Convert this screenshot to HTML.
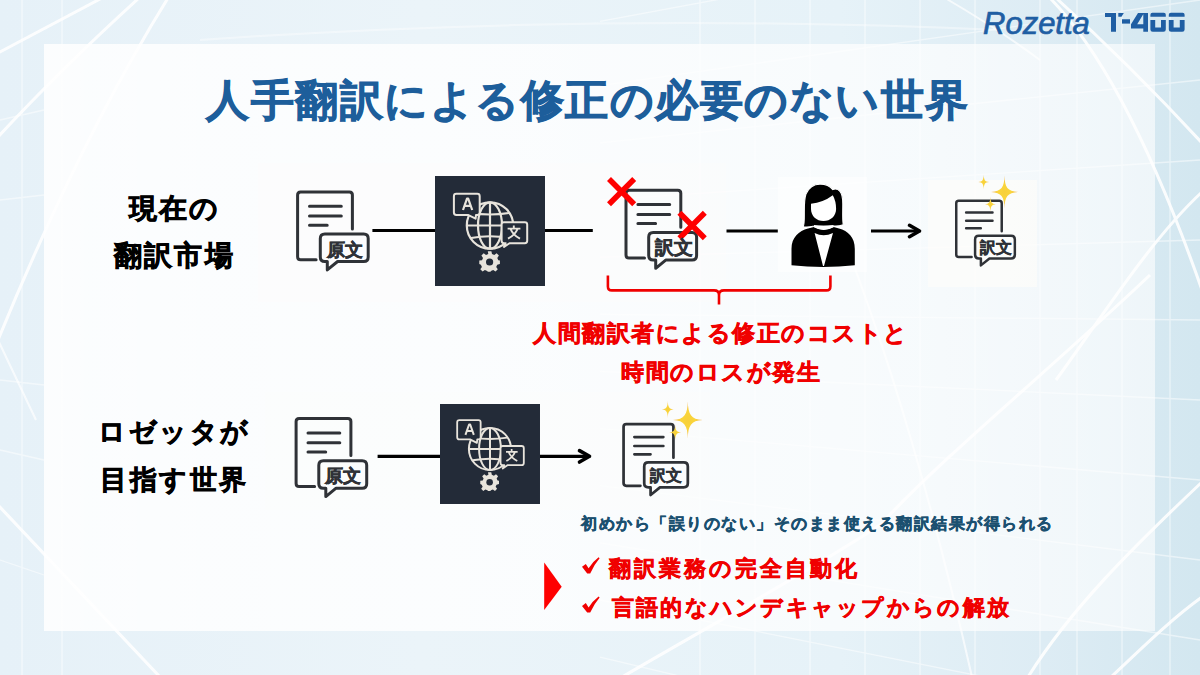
<!DOCTYPE html>
<html lang="ja">
<head>
<meta charset="utf-8">
<style>
html,body{margin:0;padding:0;}
body{width:1200px;height:675px;overflow:hidden;position:relative;font-family:"Liberation Sans",sans-serif;background:#e3eff6;}
svg{position:absolute;left:0;top:0;overflow:visible;}
#panel{position:absolute;left:44px;top:44px;width:1111px;height:587px;background:linear-gradient(to right,rgba(255,255,255,0.86) 0%,rgba(255,255,255,0.8) 45%,rgba(255,255,255,0.7) 80%,rgba(255,255,255,0.6) 100%);}
.t{position:absolute;white-space:nowrap;font-weight:bold;line-height:1;-webkit-text-stroke:0.021em currentColor;}
.k{color:#000;-webkit-text-stroke:0.026em #000;}
.r{color:#f00000;-webkit-text-stroke:0.026em #f00000;}
.d{color:#2f3237;-webkit-text-stroke:0.03em #2f3237;}
</style>
</head>
<body>
<svg width="1200" height="675" viewBox="0 0 1200 675">
  <defs>
    <linearGradient id="bgg" x1="0" y1="0" x2="1" y2="0">
      <stop offset="0" stop-color="#e6f1f8"/>
      <stop offset="0.35" stop-color="#ebf4f9"/>
      <stop offset="0.7" stop-color="#e6f2f8"/>
      <stop offset="0.87" stop-color="#ddecf4"/>
      <stop offset="1" stop-color="#d3e7f0"/>
    </linearGradient>
    <filter id="bl" x="-10%" y="-10%" width="120%" height="120%"><feGaussianBlur stdDeviation="0.7"/></filter>
  </defs>
  <rect width="1200" height="675" fill="url(#bgg)"/>
  <g stroke="#fff" fill="none" stroke-width="1.3" opacity="0.5" filter="url(#bl)">
    <path d="M600 -42.9 L1200 -180 M600 21.4 L1200 -90 M600 85.7 L1200 0 M600 142.9 L1200 80 M600 200.0 L1200 160 M600 257.1 L1200 240 M600 314.3 L1200 320 M600 371.4 L1200 400 M600 428.6 L1200 480 M600 485.7 L1200 560 M600 542.9 L1200 640 M600 600.0 L1200 720 M600 657.1 L1200 800 M600 714.3 L1200 880"/>
    <path d="M700 0 V675 M755 0 V675 M810 0 V675 M865 0 V675 M920 0 V675 M975 0 V675 M1040 0 V675 M1077 0 V675 M1122 0 V675 M1170 0 V675"/>
    <path d="M22 0 V675 M62 0 V675 M0 120 L44 110 M0 200 L44 195 M0 380 L44 385 M0 450 L44 460 M0 560 L44 575"/>
  </g>
  <g stroke="#fff" fill="none" stroke-width="3" opacity="0.9" filter="url(#bl)">
    <path d="M-2 53 L102 -2"/>
    <path d="M-2 137 Q 60 70 139 -2"/>
    <path d="M168 -2 Q 80 140 -2 340"/>
    <path d="M-2 505 L160 677"/>
    <path d="M1056 -2 Q 1130 65 1202 143"/>
    <path d="M1050 -2 C 1110 60 1160 170 1202 290"/>
    <path d="M1056 380 C 1100 320 1150 240 1202 192"/>
    <path d="M1150 275 C 1050 370 950 450 880 525 C 820 565 720 620 622 677"/>
    <path d="M1202 482 C 1130 550 1070 610 1028 677"/>
    <path d="M1111 677 C 1140 650 1170 620 1202 597"/>
  </g>
  <path d="M200 40 Q 600 12 1000 30" stroke="#fff" fill="none" stroke-width="2" opacity="0.4" filter="url(#bl)"/>
  <g stroke="#fff" fill="none" stroke-width="2" opacity="0.7" filter="url(#bl)">
    <path d="M820 180 Q 905 380 972 677"/>
    <path d="M-2 340 L36 420"/>
    <path d="M945 -2 Q 1000 30 1040 60"/>
  </g>
</svg>
<div id="panel"></div>

<!-- logo -->
<div class="t" style="left:983px;top:7.5px;font-size:31px;font-style:italic;font-weight:normal;color:#1f5ea3;-webkit-text-stroke:0.7px #1f5ea3;">Rozetta</div>
<svg width="1200" height="675" viewBox="0 0 1200 675">
  <g fill="#1f5ea3">
    <path d="M1105 13 H1116 V31.75 H1111 V17 H1105 Z"/>
    <path d="M1118.3 13 H1123.8 L1121.5 16.8 H1118.3 Z"/>
    <rect x="1122" y="19.25" width="8" height="4.35"/>
    <path d="M1138 13 H1144 L1137.2 24.25 H1143.3 V13 H1148 V31.75 H1143.3 V28.4 H1131 V24.25 Z"/>
    <path d="M1150.4 16.75 V14.8 Q1150.4 12.8 1152.4 12.8 H1163.8 Q1165.8 12.8 1165.8 14.8 V16.75 Z M1150.4 20.1 H1155.2 V27.4 H1161 V20.1 H1165.8 V29.5 Q1165.8 31.75 1163.5 31.75 H1152.7 Q1150.4 31.75 1150.4 29.5 Z"/>
    <path d="M1168.8 16.75 V14.8 Q1168.8 12.8 1170.8 12.8 H1182.6 Q1184.6 12.8 1184.6 14.8 V16.75 Z M1168.8 20.1 H1173.6 V27.4 H1179.8 V20.1 H1184.6 V29.5 Q1184.6 31.75 1182.3 31.75 H1171.1 Q1168.8 31.75 1168.8 29.5 Z"/>
  </g>
</svg>

<!-- title -->
<div class="t" style="left:206px;top:79px;font-size:43px;letter-spacing:1.5px;color:#1d5e9b;">人手翻訳による修正の必要のない世界</div>

<!-- labels -->
<div class="t k" style="left:129px;top:195px;font-size:28px;letter-spacing:2.2px;">現在の</div>
<div class="t k" style="left:114px;top:242px;font-size:28px;letter-spacing:2.2px;">翻訳市場</div>
<div class="t k" style="left:98px;top:419px;font-size:27px;letter-spacing:2.6px;">ロゼッタが</div>
<div class="t k" style="left:100px;top:467px;font-size:27px;letter-spacing:2.6px;">目指す世界</div>

<!-- diagram svg -->
<svg width="1200" height="675" viewBox="0 0 1200 675">
  <defs>
    <g id="doc">
      <g fill="none" stroke="#2f3237" stroke-width="3" stroke-linecap="round" stroke-linejoin="round">
        <path d="M20 69.3 H4.5 Q1.5 69.3 1.5 66.3 V4.5 Q1.5 1.5 4.5 1.5 H53.3 Q56.3 1.5 56.3 4.5 V38.5"/>
        <path d="M13.4 15.8 H45.2 M13.4 25.6 H45.2 M13.4 34.8 H31.1"/>
        <path d="M41.5 71.1 H67.6 Q72.1 71.1 72.1 66.6 V48.2 Q72.1 43.7 67.6 43.7 H28.7 Q24.2 43.7 24.2 48.2 V66.6 Q24.2 71.1 28.7 71.1 H31.2 V79.5 Z"/>
      </g>
    </g>
    <g id="globe">
      <rect x="0" y="0" width="110" height="110" fill="#232b38"/>
      <g fill="none" stroke="#e8e4dc" stroke-width="2.2">
        <circle cx="55" cy="49.5" r="23.2"/>
        <ellipse cx="55" cy="49.5" rx="12" ry="23.2"/>
        <path d="M55 26.3 V72.7 M31.8 49.5 H78.2"/>
        <path d="M36 37 Q55 40 74 37"/>
        <path d="M36 62 Q55 58.5 74 62"/>
      </g>
      <path d="M21.3 17.8 H42.3 Q44.7 17.8 44.7 20.2 V36.5 Q44.7 38.9 42.3 38.9 H41 L40.6 42.7 L33 38.9 H21.3 Q18.9 38.9 18.9 36.5 V20.2 Q18.9 17.8 21.3 17.8 Z" fill="#232b38" stroke="#e8e4dc" stroke-width="2" stroke-linejoin="round"/>
      <path d="M69 46.2 H89.8 Q92.2 46.2 92.2 48.6 V64.8 Q92.2 67.2 89.8 67.2 H74.5 L69 71 L70.6 67.2 H69 Q66.6 67.2 66.6 64.8 V48.6 Q66.6 46.2 69 46.2 Z" fill="#232b38" stroke="#e8e4dc" stroke-width="2" stroke-linejoin="round"/>
      <path d="M28 34 L32 22.6 H33.2 L37.2 34 M29.6 29.8 H35.6" fill="none" stroke="#e8e4dc" stroke-width="2.2" stroke-linejoin="round"/>
      <g fill="none" stroke="#e8e4dc" stroke-width="1.9">
        <path d="M78.8 49.5 V52 M72.6 52.6 H85.4 M75.5 52.8 Q78 59 85 62.6 M82.6 52.8 Q80 59 73 62.6"/>
      </g>
      <g transform="translate(54.6,85.5)" fill="#e8e4dc">
        <path d="M-1.8 -10.3 H1.8 L2.4 -7.6 L4.7 -6.6 L7 -8.2 L9.3 -5.9 L7.7 -3.6 L8.7 -1.3 L10.3 -1 V2.6 L7.6 3.2 L6.6 5.5 L8.2 7.8 L5.9 10.1 L3.6 8.5 L1.3 9.5 L1 10.3 H-1.8 L-2.4 9.5 L-4.7 8.5 L-7 10.1 L-9.3 7.8 L-7.7 5.5 L-8.7 3.2 L-10.3 2.6 V-1 L-7.6 -1.3 L-6.6 -3.6 L-8.2 -5.9 L-5.9 -8.2 L-3.6 -6.6 L-1.3 -7.6 Z"/>
        <circle cx="0" cy="0.5" r="3.6" fill="#232b38"/>
      </g>
    </g>
    <path id="spark" d="M0 -1 C0.02 -0.3 0.22 -0.03 1 0 C0.22 0.03 0.02 0.3 0 1 C-0.02 0.3 -0.22 0.03 -1 0 C-0.22 -0.03 -0.02 -0.3 0 -1 Z"/>
    <radialGradient id="sg" cx="0.5" cy="0.5" r="0.5">
      <stop offset="0" stop-color="#f7d03a"/>
      <stop offset="0.5" stop-color="#fad53c"/>
      <stop offset="1" stop-color="#f3b35a"/>
    </radialGradient>
  </defs>

  <!-- icons bg -->
  <g fill="#fffdfa">
    <rect x="258" y="163" width="468" height="139" opacity="0.25"/>
    <rect x="265" y="392" width="445" height="118" opacity="0.2"/>
    <rect x="928" y="180" width="109" height="107" opacity="0.6"/>
  </g>
  <rect x="778" y="177" width="89" height="95" fill="#fff" opacity="0.5"/>

  <!-- row1 connectors -->
  <g stroke="#000" stroke-width="3.2" fill="none">
    <path d="M372.4 230.5 H435"/>
    <path d="M545 230.5 H592.8"/>
    <path d="M726.5 231 H777.8"/>
    <path d="M871 231 H918"/>
    <path d="M377.6 456.3 H440"/>
    <path d="M539.7 456.3 H588"/>
  </g>
  <g stroke="#000" stroke-width="3.6" fill="none" stroke-linecap="round" stroke-linejoin="round">
    <path d="M909.5 225.3 L919.5 231 L909.5 236.7"/>
    <path d="M579.5 450.6 L589.5 456.3 L579.5 462"/>
  </g>

  <use href="#doc" x="296.1" y="190.4"/>
  <use href="#globe" x="435" y="176"/>
  <use href="#doc" x="624.5" y="188.8"/>
  <use href="#doc" transform="translate(955,199.4) scale(0.83)"/>
  <use href="#doc" x="294.6" y="417.1"/>
  <use href="#globe" transform="translate(440,404) scale(0.909)"/>
  <use href="#doc" transform="translate(622.2,422.7) scale(0.91)"/>

  <!-- red Xs -->
  <g stroke="#fe0000" stroke-width="5.6">
    <path d="M609 179 L634.2 204.2 M634.2 179 L609 204.2"/>
    <path d="M679.4 212.8 L704.8 238.2 M704.8 212.8 L679.4 238.2"/>
  </g>

  <!-- person -->
  <g fill="#000">
    <path d="M791.5 265.3 V249 C791.5 237 799 231 808 228.5 L814 227 Q823.5 232.5 833.5 227 L839 228.5 C848 231 854.8 237 854.8 249 V265.3 Q823 268.5 791.5 265.3 Z"/>
  </g>
  <path d="M814.6 233 Q823.5 237.5 833 233 L824 266 H823 Z" fill="#fff"/>
  <path d="M803.2 226.7 C804.5 224 804.3 218 804.3 212 C804.3 204 804.5 198 806 194 C809 187 814 184.1 820 184.1 C826 184.1 830 186 832.8 189.6 C835 188.6 838 189 840 191.5 C842.5 194.5 842.8 198 842.8 204 C842.8 212 842.4 218 843.2 224.8 Q838 226.5 834 226 Q823.5 226.5 813 226.2 Q808 227.5 803.2 226.7 Z" fill="#000" stroke="#fff" stroke-width="1.1"/>
  <path d="M811 203.7 Q823 202.5 832.8 195.2 Q836.1 201 836.1 209 C836.1 216 830.5 221.1 823.5 221.1 C816.5 221.1 811 216 811 209 Z" fill="#fff"/>
  <path d="M814 225 Q823.5 226.5 833.5 225 L833.5 227.3 Q823.5 232.8 814 227.3 Z" fill="#fff"/>
  <!-- sparkles -->
  <g fill="url(#sg)">
    <use href="#spark" transform="translate(1004.5,192) scale(13.5,16.5)"/>
    <use href="#spark" transform="translate(983.7,182) scale(5.4,7.5)"/>
    <use href="#spark" transform="translate(990.4,204.3) scale(5.4,8)"/>
    <use href="#spark" transform="translate(687.8,420) scale(14.8,18.7)"/>
    <use href="#spark" transform="translate(667.8,409.5) scale(5.9,8.7)"/>
    <use href="#spark" transform="translate(675.2,432.4) scale(5.9,7.6)"/>
  </g>

  <!-- bracket -->
  <path d="M607.9 275.4 V286.4 Q607.9 290.4 611.9 290.4 H714 Q719 290.4 719 295 V304.6 M719 295 Q719 290.4 724 290.4 H826.4 Q830.4 290.4 830.4 286.4 V275.4" fill="none" stroke="#f00000" stroke-width="2.6"/>

  <!-- red triangle -->
  <path d="M544.2 562.5 L561.7 586.7 L544.2 610 Z" fill="#fe0000"/>
  <!-- checks -->
  <g fill="#f00000">
    <path d="M582 566.8 L585.8 563.9 L588.6 568.2 Q592.5 561.8 598.6 557.2 L599.6 558.3 Q594.2 564.6 590.2 573.4 H587.2 Z"/>
    <path d="M582 606 L585.8 603.1 L588.6 607.4 Q592.5 601 598.6 596.4 L599.6 597.5 Q594.2 603.8 590.2 612.6 H587.2 Z"/>
  </g>
</svg>

<!-- doc texts -->
<div class="t d" style="left:326.5px;top:240.5px;font-size:18px;">原文</div>
<div class="t d" style="left:325px;top:467px;font-size:18.3px;">原文</div>
<div class="t d" style="left:654.6px;top:238.5px;font-size:18.5px;">訳文</div>
<div class="t d" style="left:980px;top:240px;font-size:15.5px;">訳文</div>
<div class="t d" style="left:650px;top:468px;font-size:16px;">訳文</div>

<!-- red texts -->
<div class="t r" style="left:533px;top:322px;font-size:23px;letter-spacing:1.5px;">人間翻訳者による修正のコストと</div>
<div class="t r" style="left:621px;top:361px;font-size:23px;letter-spacing:1.5px;">時間のロスが発生</div>

<div class="t" style="left:581px;top:516px;font-size:16px;letter-spacing:1.5px;color:#1b5070;-webkit-text-stroke:0.03em #1b5070;">初めから「誤りのない」そのまま使える翻訳結果が得られる</div>

<div class="t r" style="left:609px;top:558px;font-size:22px;letter-spacing:2.98px;">翻訳業務の完全自動化</div>
<div class="t r" style="left:611.7px;top:596.5px;font-size:22px;letter-spacing:2.28px;">言語的なハンデキャップからの解放</div>

</body>
</html>
